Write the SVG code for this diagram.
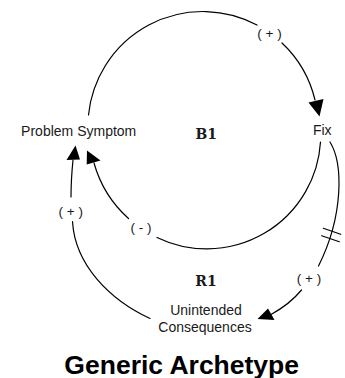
<svg xmlns="http://www.w3.org/2000/svg" width="345" height="378" viewBox="0 0 345 378">
  <style>
    .link { fill: none; stroke: #000; stroke-width: 1.2; stroke-linecap: round; }
    .head { fill: #000; stroke: none; }
    .node { font-family: "Liberation Sans", Arial, sans-serif; font-size: 14px; fill: #1a1a1a; text-anchor: middle; }
    .pol { font-family: "Liberation Sans", Arial, sans-serif; font-size: 13.5px; fill: #1a1a1a; text-anchor: middle; }
    .loop { font-family: "DejaVu Serif", "Liberation Serif", serif; font-size: 14px; font-weight: bold; fill: #1a1a1a; text-anchor: middle; }
    .title { font-family: "Liberation Sans", Arial, sans-serif; font-size: 26.5px; font-weight: bold; fill: #000; text-anchor: middle; }
  </style>
  <rect width="345" height="378" fill="#fff"/>

  <!-- causal links -->
  <g id="connectors">
    <!-- Problem Symptom -> Fix (+) -->
    <g id="link-symptom-fix">
      <path class="link" d="M88.5,115 A115,115 0 0 1 257,25"/>
      <path class="link" d="M282,43 A115,115 0 0 1 315,100"/>
      <polygon class="head" points="319.5,116.5 308.5,102.5 323.5,99"/>
      <text class="pol" x="269.5" y="37.5">( + )</text>
    </g>
    <!-- Fix -> Problem Symptom (-) -->
    <g id="link-fix-symptom">
      <path class="link" d="M320.5,142 A114,114 0 0 1 157,237.5"/>
      <path class="link" d="M128.5,218.5 A117,117 0 0 1 94,163"/>
      <polygon class="head" points="87,150.5 86.7,164.5 100.5,160.5"/>
      <text class="pol" x="141" y="232">( - )</text>
    </g>
    <!-- Fix -> Unintended Consequences (+), delayed -->
    <g id="link-fix-consequences">
      <path class="link" d="M330,142 C343,163 344,215 318.5,266"/>
      <line class="link" x1="323.3" y1="228.3" x2="340.7" y2="234.3"/>
      <line class="link" x1="321.7" y1="235.7" x2="339.3" y2="241.7"/>
      <path class="link" d="M301.5,290 Q290,304 271,314.5"/>
      <polygon class="head" points="257.5,319 268,308.5 274.5,320"/>
      <text class="pol" x="309" y="282.5">( + )</text>
    </g>
    <!-- Unintended Consequences -> Problem Symptom (+) -->
    <g id="link-consequences-symptom">
      <path class="link" d="M150,318.5 C110,300 75,265 72.5,221.5"/>
      <path class="link" d="M71,197 C71,185 72,170 73,160"/>
      <polygon class="head" points="75.5,145.5 66.5,160 80,159.5"/>
      <text class="pol" x="70.8" y="215.5">( + )</text>
    </g>
  </g>

  <!-- variables -->
  <g id="problem-symptom">
    <text class="node" x="78.7" y="136">Problem Symptom</text>
  </g>
  <g id="fix">
    <text class="node" x="322.3" y="135">Fix</text>
  </g>
  <g id="unintended-consequences">
    <text class="node" x="206" y="315">Unintended</text>
    <text class="node" x="205" y="332">Consequences</text>
  </g>

  <!-- loop identifiers -->
  <g id="loop-b1">
    <text class="loop" x="206.3" y="138.5">B1</text>
  </g>
  <g id="loop-r1">
    <text class="loop" x="206" y="285.7">R1</text>
  </g>

  <g id="title">
    <text class="title" x="181.7" y="373.5">Generic Archetype</text>
  </g>
</svg>
